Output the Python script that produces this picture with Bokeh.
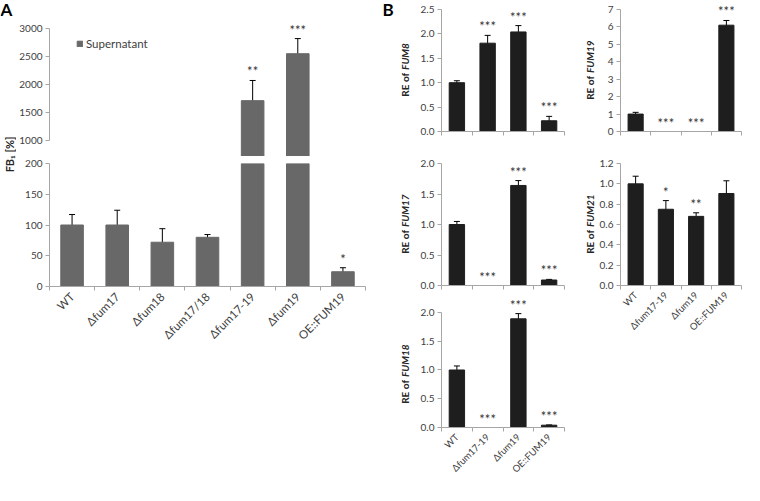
import math
from bokeh.plotting import figure
from bokeh.models import (ColumnDataSource, Range1d, FixedTicker, Whisker, TeeHead,
                          LabelSet, Label, Legend, LegendItem, NumeralTickFormatter)
from bokeh.layouts import row, column
from bokeh.embed import file_html
from bokeh.resources import INLINE
from bokeh.core.properties import value

FONT = "Lato"
AXIS_COL = "#a6a6a6"
TXT_COL = "#404040"
LBL_COL = "#262626"

# ---------------- data ----------------
strains_a = ["WT", "Δfum17", "Δfum18", "Δfum17/18", "Δfum17-19", "Δfum19", "OE::FUM19"]
fb1 = [100, 100, 72, 80, 1712, 2550, 24]
fb1_err = [17, 24, 22, 4.5, 360, 270, 6.5]
fb1_sig = ["", "", "", "", "**", "***", "*"]
a_low_ticks = [0, 50, 100, 150, 200]
a_high_ticks = [1000, 1500, 2000, 2500, 3000]
a_low_max = 200
a_high_min = 715

strains_b = ["WT", "Δfum17-19", "Δfum19", "OE::FUM19"]
fum8 = [1.0, 1.81, 2.04, 0.22]
fum8_err = [0.04, 0.16, 0.13, 0.09]
fum8_sig = ["", "***", "***", "***"]
fum8_ticks = [0, 0.5, 1.0, 1.5, 2.0, 2.5]

fum19 = [1.0, 0.0, 0.0, 6.1]
fum19_err = [0.1, 0.0, 0.0, 0.27]
fum19_sig = ["", "***", "***", "***"]
fum19_ticks = [0, 1, 2, 3, 4, 5, 6, 7]

fum17 = [1.0, 0.0, 1.64, 0.09]
fum17_err = [0.05, 0.0, 0.08, 0.01]
fum17_sig = ["", "***", "***", "***"]
fum17_ticks = [0, 0.5, 1.0, 1.5, 2.0]

fum21 = [1.0, 0.75, 0.68, 0.905]
fum21_err = [0.075, 0.085, 0.035, 0.125]
fum21_sig = ["", "*", "**", ""]
fum21_ticks = [0, 0.2, 0.4, 0.6, 0.8, 1.0, 1.2]

fum18 = [1.0, 0.0, 1.89, 0.04]
fum18_err = [0.07, 0.0, 0.09, 0.005]
fum18_sig = ["", "***", "***", "***"]
fum18_ticks = [0, 0.5, 1.0, 1.5, 2.0]


# ---------------- helpers ----------------
def base_fig(width, height, xr, yr, mbl, mbr, mbt, mbb, x_axis=True):
    p = figure(width=width, height=height, x_range=xr, y_range=yr,
               output_backend="svg", toolbar_location=None, title=None,
               x_axis_type="linear" if x_axis else None,
               min_border_left=mbl, min_border_right=mbr,
               min_border_top=mbt, min_border_bottom=mbb)
    p.grid.visible = False
    p.outline_line_color = None
    return p


def strip_fig(width, height):
    s = figure(width=width, height=height, x_range=Range1d(0, width),
               y_range=Range1d(height, 0), output_backend="svg",
               toolbar_location=None, title=None, x_axis_type=None, y_axis_type=None,
               min_border=0)
    s.grid.visible = False
    s.outline_line_color = None
    return s


def style_y(p, ticks, fmt):
    ax = p.yaxis[0]
    ax.ticker = FixedTicker(ticks=ticks, minor_ticks=[])
    ax.bounds = (ticks[0], ticks[-1])
    ax.formatter = NumeralTickFormatter(format=fmt)
    ax.axis_line_color = AXIS_COL
    ax.major_tick_line_color = AXIS_COL
    ax.major_tick_out = 4
    ax.major_tick_in = 0
    ax.minor_tick_line_color = None
    ax.major_label_standoff = 3
    ax.major_label_text_font = FONT
    ax.major_label_text_font_size = "10px"
    ax.major_label_text_color = TXT_COL


def style_x(p, labels, n, fs):
    ax = p.xaxis[0]
    majors = list(range(n)) if labels else []
    ax.ticker = FixedTicker(ticks=majors, minor_ticks=[i - 0.5 for i in range(n + 1)])
    ax.axis_line_color = AXIS_COL
    ax.major_tick_line_color = None
    ax.major_tick_out = 0
    ax.major_tick_in = 0
    ax.minor_tick_line_color = AXIS_COL
    ax.minor_tick_out = 4
    ax.minor_tick_in = 0
    if labels:
        ax.major_label_overrides = {i: s for i, s in enumerate(labels)}
        ax.major_label_orientation = math.pi / 4
        ax.major_label_standoff = 4
        ax.major_label_text_font = FONT
        ax.major_label_text_font_size = fs
        ax.major_label_text_color = TXT_COL


def bars(p, vals, errs, sigs, color, keep, star_fs="13px"):
    xs = list(range(len(vals)))
    r = p.vbar(x=xs, top=vals, width=0.5, fill_color=color, line_color=color)
    idx = [i for i in xs if keep(vals[i])]
    wi = [i for i in idx if errs[i] > 0]
    wsrc = ColumnDataSource(dict(
        x=[xs[i] for i in wi],
        upper=[vals[i] + errs[i] for i in wi],
        lower=[vals[i] - errs[i] for i in wi]))
    p.add_layout(Whisker(source=wsrc, base="x", upper="upper", lower="lower",
                         line_color="black", line_width=1,
                         upper_head=TeeHead(size=6, line_color="black", line_width=1),
                         lower_head=TeeHead(size=6, line_color="black", line_width=1)))
    si = [i for i in idx if sigs[i]]
    ssrc = ColumnDataSource(dict(
        x=[xs[i] for i in si],
        y=[vals[i] + errs[i] for i in si],
        t=[sigs[i] for i in si]))
    p.add_layout(LabelSet(source=ssrc, x="x", y="y", text="t", y_offset=1,
                          text_align="center", text_baseline="bottom",
                          text_font=value(FONT), text_font_size=star_fs,
                          text_color="#333333"))
    return r


def ylabel_strip(s, gene, cx, cy, fs=10):
    w1 = 2.3 * fs
    w2 = 0.62 * fs * len(gene)
    gap = 3
    total = w1 + gap + w2
    a1 = cy + total / 2 - w1
    a2 = a1 - gap
    s.add_layout(Label(x=cx, y=a1, text="RE of", angle=math.pi / 2, text_align="right",
                       text_baseline="middle", text_font=FONT, text_font_size=f"{fs}px",
                       text_font_style="bold", text_color=LBL_COL))
    s.add_layout(Label(x=cx, y=a2, text=gene, angle=math.pi / 2, text_align="left",
                       text_baseline="middle", text_font=FONT, text_font_size=f"{fs}px",
                       text_font_style="bold italic", text_color=LBL_COL))


# ---------------- panel A ----------------
A_COL = "#686868"
A_W = 364
nA = len(strains_a)
A_TOP_FRAME = 156   # extended frame; 3000 tick sits 28 px below top
a_high_end = a_high_ticks[-1] + 28 * (a_high_ticks[-1] - a_high_min) / 128

stripA = strip_fig(16, 349)
stripA.add_layout(Label(x=0, y=-2, text="A", text_align="left", text_baseline="top",
                        text_font=FONT, text_font_size="17px", text_font_style="bold",
                        text_color="black"))
stripA.add_layout(Label(x=9, y=154, text="FB₁ [%]", angle=math.pi / 2, text_align="center",
                        text_baseline="middle", text_font=FONT, text_font_size="11px",
                        text_font_style="bold", text_color=LBL_COL))

topA = base_fig(A_W, A_TOP_FRAME, Range1d(-0.5, nA - 0.5), Range1d(a_high_min, a_high_end),
                30, 15, 0, 0, x_axis=False)
style_y(topA, a_high_ticks, "0")
rA = bars(topA, fb1, fb1_err, fb1_sig, A_COL, lambda v: v > a_low_max)
legend = Legend(items=[LegendItem(label="Supernatant", renderers=[rA])],
                location=(27, 106), padding=0, margin=0, spacing=0,
                glyph_width=7, glyph_height=7, label_standoff=3, label_height=12,
                label_text_font=FONT, label_text_font_size="11.5px",
                label_text_color=TXT_COL, border_line_color=None,
                background_fill_alpha=0)
topA.add_layout(legend)

botA = base_fig(A_W, 193, Range1d(-0.5, nA - 0.5), Range1d(0, a_low_max),
                30, 15, 7, 60)
style_y(botA, a_low_ticks, "0")
style_x(botA, strains_a, nA, "11.5px")
bars(botA, fb1, fb1_err, fb1_sig, A_COL, lambda v: v <= a_low_max)

colA = row(stripA, column(topA, botA))

# ---------------- panel B ----------------
B_COL = "#1e1e1e"
FH = 122


def panel_b(width, height, mbl, mbr, top_px, mbb, vals, errs, sigs, ticks, fmt, labels):
    tmax = ticks[-1]
    yend = tmax * (top_px + FH) / FH
    p = base_fig(width, height, Range1d(-0.5, 3.5), Range1d(0, yend), mbl, mbr, 0, mbb)
    style_y(p, ticks, fmt)
    style_x(p, labels, 4, "9.5px")
    bars(p, vals, errs, sigs, B_COL, lambda v: True)
    return p


LW, RW = 156, 147
f8 = panel_b(LW, 151, 29, 4, 9, 20, fum8, fum8_err, fum8_sig, fum8_ticks, "0.0", None)
f17 = panel_b(LW, 144, 29, 4, 12, 10, fum17, fum17_err, fum17_sig, fum17_ticks, "0.0", None)
f18 = panel_b(LW, 186, 29, 4, 18, 46, fum18, fum18_err, fum18_sig, fum18_ticks, "0.0",
              strains_b)
f19 = panel_b(RW, 151, 23, 2, 9, 20, fum19, fum19_err, fum19_sig, fum19_ticks, "0", None)
f21 = panel_b(RW, 196, 23, 2, 12, 62, fum21, fum21_err, fum21_sig, fum21_ticks, "0.0",
              strains_b)

SLW, SRW = 32, 28
s8 = strip_fig(SLW, 151)
s8.add_layout(Label(x=2, y=-2, text="B", text_align="left", text_baseline="top",
                    text_font=FONT, text_font_size="17px", text_font_style="bold",
                    text_color="black"))
ylabel_strip(s8, "FUM8", 24, 9 + FH / 2)
s17 = strip_fig(SLW, 144)
ylabel_strip(s17, "FUM17", 24, 12 + FH / 2)
s18 = strip_fig(SLW, 186)
ylabel_strip(s18, "FUM18", 24, 18 + FH / 2)
s19 = strip_fig(SRW, 151)
ylabel_strip(s19, "FUM19", 21, 9 + FH / 2)
s21 = strip_fig(SRW, 196)
ylabel_strip(s21, "FUM21", 21, 12 + FH / 2)

layout = row(colA,
             column(s8, s17, s18), column(f8, f17, f18),
             column(s19, s21), column(f19, f21))

open("out.html", "w").write(file_html(layout, INLINE))
